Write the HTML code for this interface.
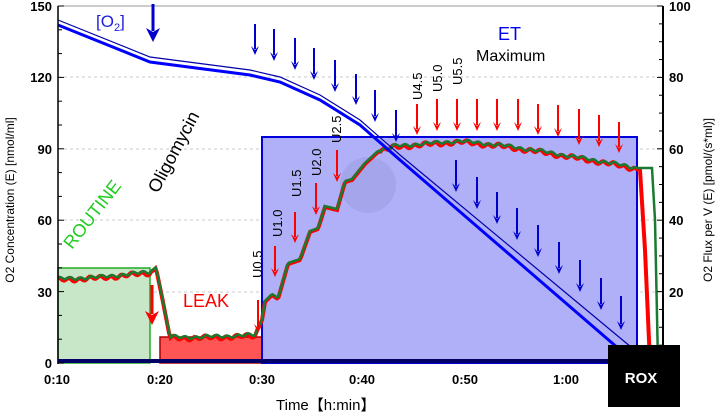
<!DOCTYPE html>
<html><head><meta charset="utf-8"><style>
html,body{margin:0;padding:0;background:#fff;}
svg{display:block;font-family:"Liberation Sans",sans-serif;}
</style></head><body>
<svg id="s" width="723" height="417" viewBox="0 0 723 417" xmlns="http://www.w3.org/2000/svg">
<!-- grid -->
<g stroke="#c8c8c8" stroke-dasharray="3,3" stroke-width="1">
<line x1="58" y1="77" x2="663" y2="77"/><line x1="58" y1="149" x2="663" y2="149"/>
<line x1="58" y1="220" x2="663" y2="220"/><line x1="58" y1="292" x2="663" y2="292"/>
</g>
<line x1="58" y1="6" x2="663" y2="6" stroke="#999" stroke-width="1"/>
<!-- boxes -->
<rect x="58" y="268" width="92" height="95" fill="#c8e6c8" stroke="#22aa22" stroke-width="1.5"/>
<rect x="160" y="337" width="102" height="26" fill="#ff5555" stroke="#aa0000" stroke-width="1.5"/>
<rect x="262" y="137" width="375" height="226" fill="#b0b0f8" stroke="#0000dd" stroke-width="2"/>
<circle cx="368" cy="185" r="28" fill="#9a9ae0" opacity="0.5"/>
<g id="traces"></g>
<!-- O2 lines -->
<polyline points="58,20 150,57 250,70 280,77 320,95 360,120 400,155 637,352" fill="none" stroke="#0000aa" stroke-width="1.2"/>
<polyline points="58,25 150,62 250,75 280,82 320,100 360,125 400,160 626,355" fill="none" stroke="#0000ff" stroke-width="3"/>
<!-- axes -->
<line x1="58" y1="6" x2="58" y2="364" stroke="#000" stroke-width="1.5"/>
<line x1="663" y1="6" x2="663" y2="364" stroke="#000" stroke-width="2"/>
<line x1="58" y1="361" x2="610" y2="361" stroke="#000066" stroke-width="4"/>
<g id="ticks" stroke="#000" stroke-width="1"></g>
<g font-size="13" font-weight="bold" fill="#000">
<text x="52" y="11" text-anchor="end">150</text><text x="52" y="82" text-anchor="end">120</text>
<text x="52" y="154" text-anchor="end">90</text><text x="52" y="225" text-anchor="end">60</text>
<text x="52" y="297" text-anchor="end">30</text><text x="52" y="368" text-anchor="end">0</text>
<text x="669" y="11">100</text><text x="669" y="82">80</text><text x="669" y="154">60</text>
<text x="669" y="225">40</text><text x="669" y="297">20</text>
<text x="57" y="384" text-anchor="middle">0:10</text><text x="160" y="384" text-anchor="middle">0:20</text>
<text x="262" y="384" text-anchor="middle">0:30</text><text x="362" y="384" text-anchor="middle">0:40</text>
<text x="465" y="384" text-anchor="middle">0:50</text><text x="566" y="384" text-anchor="middle">1:00</text>
</g>
<text x="14" y="200" font-size="12" transform="rotate(-90 14 200)" text-anchor="middle">O2 Concentration (E) [nmol/ml]</text>
<text x="712" y="200" font-size="12" transform="rotate(-90 712 200)" text-anchor="middle">O2 Flux per V (E) [pmol/(s*ml)]</text>
<text x="276" y="410" font-size="15" font-family="Liberation Sans,'Noto Sans CJK SC',sans-serif">Time【h:min】</text>
<rect x="608" y="345" width="72" height="62" fill="#000"/>
<text x="641" y="383" font-size="15" font-weight="bold" fill="#fff" text-anchor="middle">ROX</text>
<!-- labels -->
<text x="96" y="27" font-size="17" fill="#2020dd">[O<tspan font-size="11" dy="4">2</tspan><tspan dy="-4">]</tspan></text>
<text x="498" y="40" font-size="18" fill="#0000ee">ET</text>
<text x="476" y="61" font-size="16" fill="#000">Maximum</text>
<text x="183" y="307" font-size="18" fill="#ff0000">LEAK</text>
<text transform="translate(72,250) rotate(-52)" font-size="18" fill="#22cc22">ROUTINE</text>
<text transform="translate(158,194) rotate(-62)" font-size="18" fill="#000">Oligomycin</text>
<g font-size="13" fill="#000">
<text transform="translate(262,278) rotate(-90)">U0.5</text>
<text transform="translate(282,237) rotate(-90)">U1.0</text>
<text transform="translate(301,197) rotate(-90)">U1.5</text>
<text transform="translate(321,176) rotate(-90)">U2.0</text>
<text transform="translate(341,143) rotate(-90)">U2.5</text>
<text transform="translate(422,100) rotate(-90)">U4.5</text>
<text transform="translate(442,92) rotate(-90)">U5.0</text>
<text transform="translate(462,85) rotate(-90)">U5.5</text>
</g>
<g id="arrows"></g>
</svg>
<script>
var NS="http://www.w3.org/2000/svg";
function el(t,a,p){var e=document.createElementNS(NS,t);for(var k in a)e.setAttribute(k,a[k]);p.appendChild(e);return e;}
var tk=document.getElementById('ticks');
for(var v=0;v<=150;v+=10){var y=363-v*357/150;el('line',{x1:58,y1:y,x2:(v%30?62:64),y2:y},tk);}
for(var v=0;v<=100;v+=5){var y=363-v*3.57;el('line',{x1:663,y1:y,x2:(v%20?659:657),y2:y},tk);}
var ar=document.getElementById('arrows');
function arrow(x,y1,y2,c,w,h){var col=c=='b'?'#0000cc':'#ff0000';h=h||7;var hw=w>2?7:4;
 el('line',{x1:x,y1:y1,x2:x,y2:y2-h+1,stroke:col,'stroke-width':w},ar);
 el('path',{d:'M'+(x-hw)+','+(y2-h-2)+' L'+x+','+y2+' L'+(x+hw)+','+(y2-h-2)+' L'+x+','+(y2-h+2)+' Z',fill:col},ar);}
arrow(153,4,42,'b',3,12);
[[255,24,55],[274,29,61],[295,38,70],[314,48,80],[335,60,92],[356,74,105],[375,90,122],[396,110,142],
 [456,160,192],[477,177,209],[497,192,224],[517,208,240],[538,225,257],[559,242,274],[580,260,292],[601,278,310],[621,296,330]].forEach(function(a){arrow(a[0],a[1],a[2],'b',2);});
arrow(152,285,325,'r',3,12);
[[258,300,333],[275,246,277],[295,212,243],[316,183,215],[337,150,182],
 [417,104,135],[437,99,131],[457,99,131],[477,99,131],[497,99,131],[518,99,131],[538,104,135],[558,105,137],[579,109,145],[599,115,147],[619,122,153]].forEach(function(a){arrow(a[0],a[1],a[2],'r',2);});
var pts=[[58,278],[100,276],[150,271],[156,266],[163,300],[170,336],[200,336],[255,334],[262,318],[265,300],[272,293],[278,297],[288,262],[300,258],[310,230],[318,227],[325,205],[337,208],[345,180],[352,178],[365,162],[378,150],[395,145],[420,143],[460,140],[500,144],[540,150],[570,155],[600,160],[637,167]];
function interp(x){for(var i=0;i<pts.length-1;i++){if(x>=pts[i][0]&&x<=pts[i+1][0]){var t=(x-pts[i][0])/(pts[i+1][0]-pts[i][0]);return pts[i][1]+t*(pts[i+1][1]-pts[i][1]);}}return pts[pts.length-1][1];}
function build(off,amp,ph,endPts){var s=[];for(var x=58;x<=637;x+=1.5){var y=interp(x)+off;if(x<150||(x>170&&x<258)||x>380)y+=amp*Math.sin(x*0.6+ph)+amp*0.6*Math.sin(x*0.17+ph);s.push(x.toFixed(1)+','+y.toFixed(1));}return s.join(' ')+' '+endPts;}
var tr=document.getElementById('traces');
el('polyline',{points:build(2,1.5,1,'640,170 645,250 650,363'),fill:'none',stroke:'#ff0000','stroke-width':4},tr);
el('polyline',{points:build(1,1.2,0.3,'640,168 652,168 655,220 658,363'),fill:'none',stroke:'#1a7a30','stroke-width':2.5},tr);
</script>
</body></html>
